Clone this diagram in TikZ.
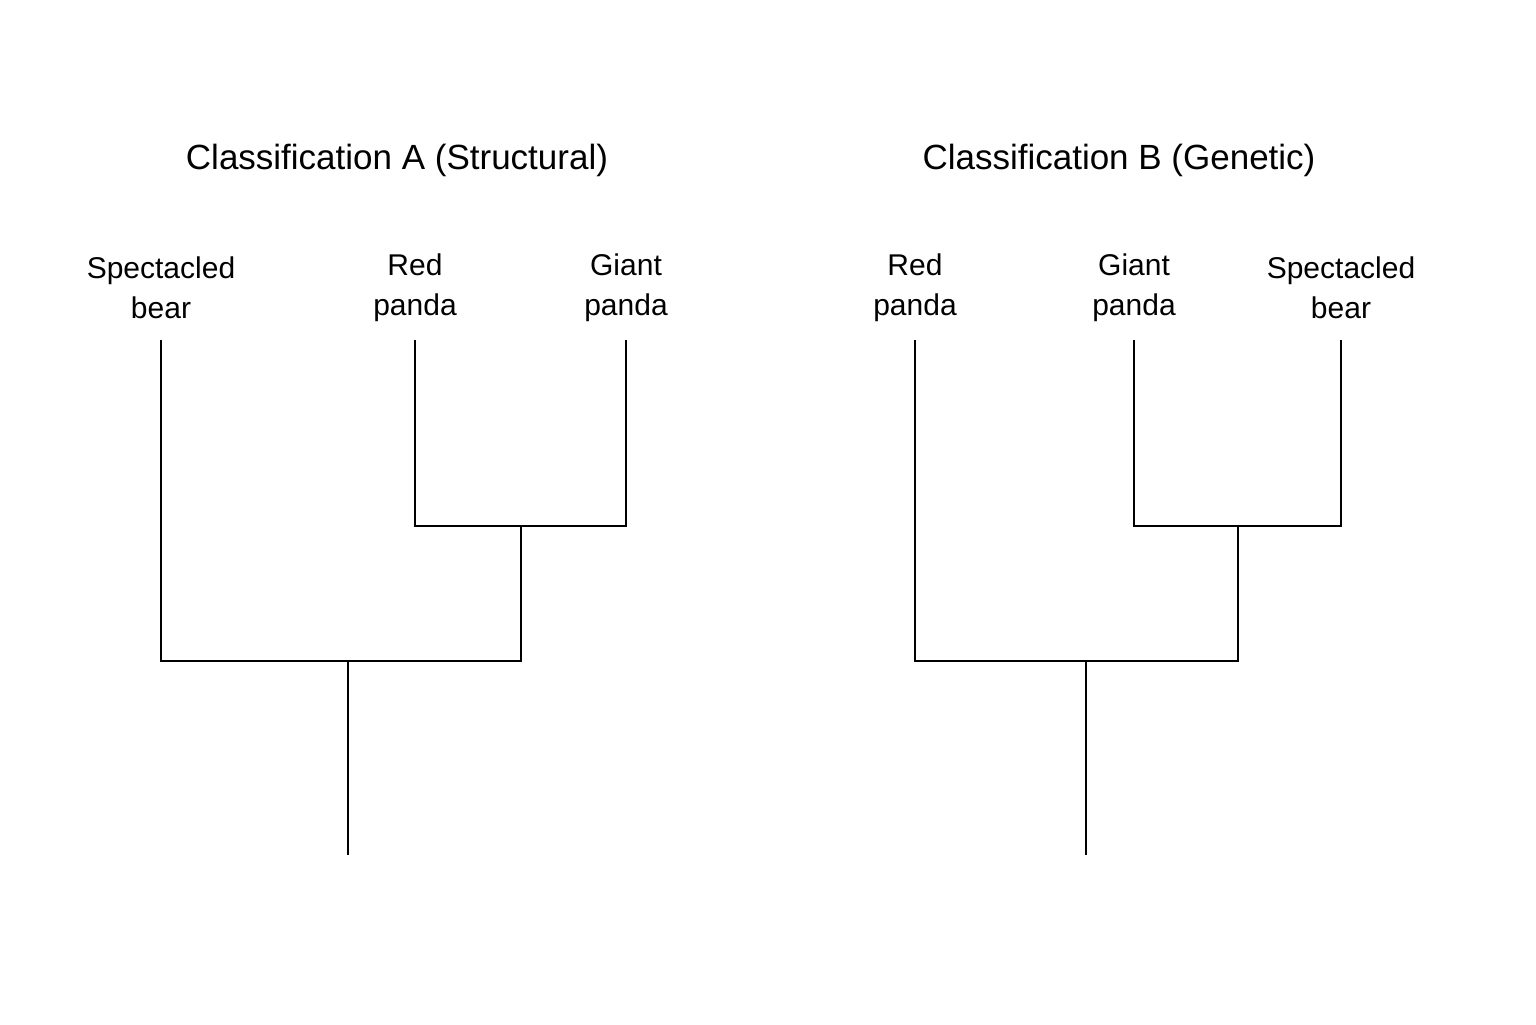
\documentclass[tikz,border=0pt]{standalone}
\usepackage{fontspec}
\setmainfont{Liberation Sans}
\begin{document}
\begin{tikzpicture}[x=0.5pt,y=-0.5pt,
  lbl/.style={align=center,font=\fontsize{15}{20}\selectfont,inner sep=0pt},
  ttl/.style={font=\fontsize{17.5}{20}\selectfont,inner sep=0pt},
  br/.style={line width=1.25pt}]
\useasboundingbox (0,0) rectangle (1536,1024);
% Titles
\node[ttl] (ta) at (397,160) {Classification A (Structural)};
\node[ttl] (tb) at (1119,160) {Classification B (Genetic)};
% Tree A
\node[lbl] (a1) at (161,288) {Spectacled\\bear};
\node[lbl] (a2) at (415,288) {Red\\panda};
\node[lbl] (a3) at (626,288) {Giant\\panda};
\coordinate (a1t) at (161,340); \coordinate (a1b) at (161,661);
\coordinate (a2t) at (415,340); \coordinate (a2b) at (415,526);
\coordinate (a3t) at (626,340); \coordinate (a3b) at (626,526);
\coordinate (aj) at (521,526); \coordinate (ajb) at (521,661);
\coordinate (ar) at (348,661); \coordinate (arb) at (348,855);
\draw[br] (a1t) -- (a1b) -- (ajb) -- (aj);
\draw[br] (a2t) -- (a2b) -- (a3b) -- (a3t);
\draw[br] (ar) -- (arb);
% Tree B
\node[lbl] (b1) at (915,288) {Red\\panda};
\node[lbl] (b2) at (1134,288) {Giant\\panda};
\node[lbl] (b3) at (1341,288) {Spectacled\\bear};
\coordinate (b1t) at (915,340); \coordinate (b1b) at (915,661);
\coordinate (b2t) at (1134,340); \coordinate (b2b) at (1134,526);
\coordinate (b3t) at (1341,340); \coordinate (b3b) at (1341,526);
\coordinate (bj) at (1238,526); \coordinate (bjb) at (1238,661);
\coordinate (brt) at (1086,661); \coordinate (brb) at (1086,855);
\draw[br] (b1t) -- (b1b) -- (bjb) -- (bj);
\draw[br] (b2t) -- (b2b) -- (b3b) -- (b3t);
\draw[br] (brt) -- (brb);
\end{tikzpicture}
\end{document}
